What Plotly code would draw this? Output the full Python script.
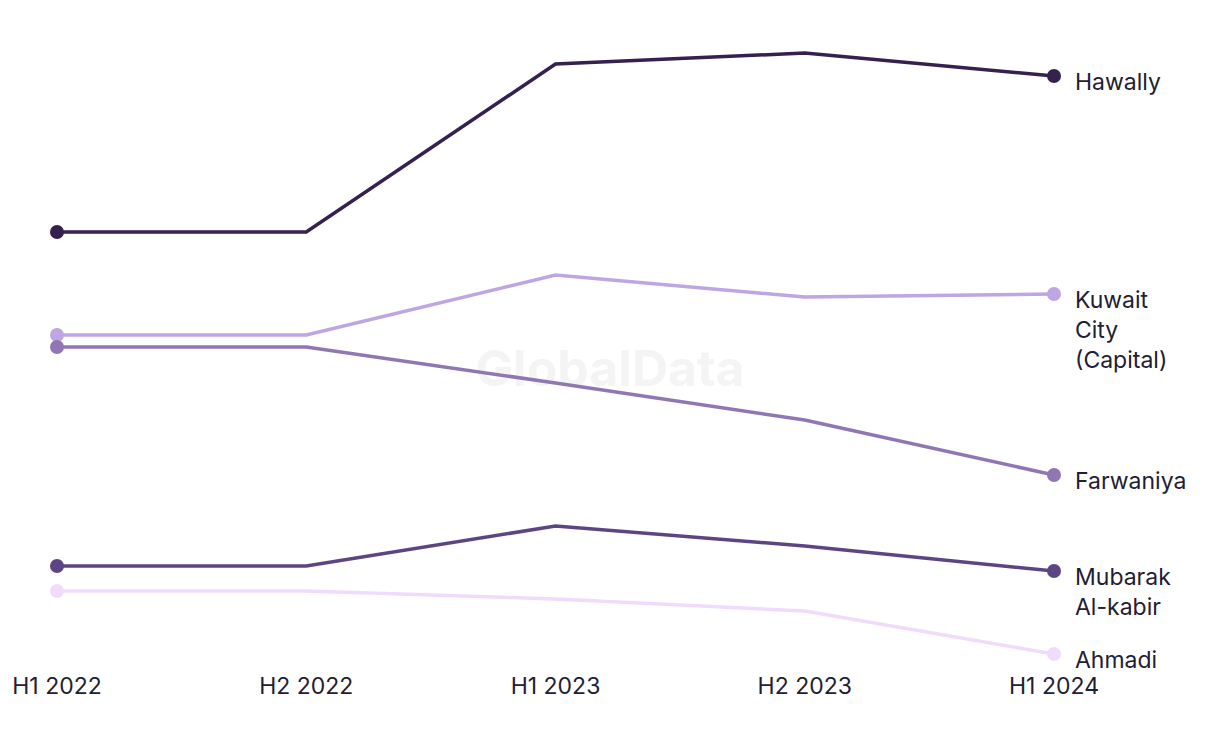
import plotly.graph_objects as go

periods = ["H1 2022", "H2 2022", "H1 2023", "H2 2023", "H1 2024"]

hawally = [93.6, 93.6, 127.2, 129.4, 124.8]
kuwait_city = [73.0, 73.0, 85.0, 80.6, 81.2]
farwaniya = [70.6, 70.6, 63.4, 56.0, 45.0]
mubarak = [26.8, 26.8, 34.8, 30.8, 25.8]
ahmadi = [21.8, 21.8, 20.2, 17.8, 9.2]

series = [
    ("Hawally", hawally, "#35204f"),
    ("Kuwait<br>City<br>(Capital)", kuwait_city, "#bea5e3"),
    ("Farwaniya", farwaniya, "#9077b3"),
    ("Mubarak<br>Al-kabir", mubarak, "#5c4582"),
    ("Ahmadi", ahmadi, "#f1dbfc"),
]

FONT = "Inter"
TEXT = "#1f2033"

fig = go.Figure()

# watermark drawn first so lines pass over it
fig.add_trace(go.Scatter(
    x=[2.219], y=[65.4], mode="text", text=["<b>GlobalData</b>"],
    textfont=dict(family=FONT, size=50, color="#f4f4f4"),
    hoverinfo="skip", showlegend=False, cliponaxis=False,
))

annotations = []
for name, vals, col in series:
    fig.add_trace(go.Scatter(
        x=list(range(len(periods))), y=vals, mode="lines",
        line=dict(color=col, width=3.5), hoverinfo="skip", showlegend=False,
        cliponaxis=False,
    ))
    fig.add_trace(go.Scatter(
        x=[0, len(periods) - 1], y=[vals[0], vals[-1]], mode="markers",
        marker=dict(color=col, size=14), hoverinfo="skip", showlegend=False,
        cliponaxis=False,
    ))
    annotations.append(dict(
        x=len(periods) - 1, y=vals[-1], xref="x", yref="y",
        text=name, showarrow=False, xanchor="left", yanchor="top",
        xshift=19, yshift=10, align="left",
        font=dict(family=FONT, size=23, color=TEXT),
    ))

fig.update_layout(
    width=1220, height=744,
    margin=dict(l=0, r=0, t=0, b=74),
    paper_bgcolor="white", plot_bgcolor="white",
    xaxis=dict(
        range=[-0.2287, 4.666], tickmode="array",
        tickvals=list(range(len(periods))), ticktext=periods,
        showgrid=False, zeroline=False, showline=False, ticks="",
        tickfont=dict(family=FONT, size=23, color=TEXT),
    ),
    yaxis=dict(range=[6, 140], visible=False, showgrid=False, zeroline=False),
    annotations=annotations,
)

fig.write_html("out.html")
